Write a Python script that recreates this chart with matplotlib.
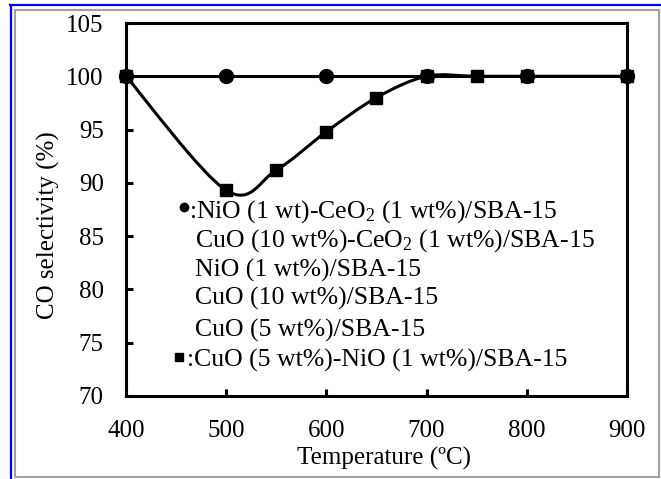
import matplotlib
matplotlib.use("Agg")
import matplotlib.pyplot as plt
from matplotlib.path import Path
from matplotlib.patches import PathPatch, Rectangle
from matplotlib.lines import Line2D

plt.rcParams['font.family'] = ['Liberation Serif', 'DejaVu Serif']
plt.rcParams['mathtext.fontset'] = 'custom'
plt.rcParams['mathtext.rm'] = 'Liberation Serif'
plt.rcParams['mathtext.it'] = 'Liberation Serif:italic'

# ---- data ----
temp_nice = [400, 500, 600, 700, 800, 900]
sel_nice = [100, 100, 100, 100, 100, 100]

temp_cuni = [400, 500, 550, 600, 650, 700, 750, 800, 900]
sel_cuni = [100, 89.3, 91.2, 94.8, 98.0, 100, 100, 100, 100]

legend_labels = [
    ":NiO (1 wt)-CeO$_\\mathrm{2}$ (1 wt%)/SBA-15",
    "CuO (10 wt%)-CeO$_\\mathrm{2}$ (1 wt%)/SBA-15",
    "NiO (1 wt%)/SBA-15",
    "CuO (10 wt%)/SBA-15",
    "CuO (5 wt%)/SBA-15",
    ":CuO (5 wt%)-NiO (1 wt%)/SBA-15",
]

x_ticks = [400, 500, 600, 700, 800, 900]
y_ticks = [70, 75, 80, 85, 90, 95, 100, 105]

W, H = 661, 479
fig = plt.figure(figsize=(W / 100, H / 100), dpi=100)
fig.patch.set_facecolor('white')

L, R, T, B = 126, 627, 23, 396
ax = fig.add_axes([L / W, (H - B) / H, (R - L) / W, (B - T) / H])


def smooth_path(xs, ys):
    # Catmull-Rom style cubic Bezier smoothing (like spreadsheet "smoothed line")
    n = len(xs)
    verts = [(xs[0], ys[0])]
    codes = [Path.MOVETO]
    for i in range(n - 1):
        x0, y0 = (xs[i - 1], ys[i - 1]) if i > 0 else (xs[i], ys[i])
        x1, y1 = xs[i], ys[i]
        x2, y2 = xs[i + 1], ys[i + 1]
        x3, y3 = (xs[i + 2], ys[i + 2]) if i + 2 < n else (xs[i + 1], ys[i + 1])
        c1 = (x1 + (x2 - x0) / 6.0, y1 + (y2 - y0) / 6.0)
        c2 = (x2 - (x3 - x1) / 6.0, y2 - (y3 - y1) / 6.0)
        verts += [c1, c2, (x2, y2)]
        codes += [Path.CURVE4] * 3
    return Path(verts, codes)


ax.add_patch(PathPatch(smooth_path(temp_cuni, sel_cuni), facecolor='none',
                       edgecolor='black', lw=2.2, zorder=2))
ax.plot(temp_cuni, sel_cuni, linestyle='none', marker='s', markersize=8,
        color='black', zorder=3, clip_on=False)
ax.plot(temp_nice, sel_nice, color='black', lw=2.2, marker='o', markersize=10,
        zorder=4, clip_on=False)

ax.set_xlim(400, 900)
ax.set_ylim(70, 105)
ax.set_xticks(x_ticks)
ax.set_yticks(y_ticks)
ax.tick_params(direction='in', length=5, width=2.2, labelsize=18, colors='black')
ax.tick_params(axis='x', pad=17)
ax.tick_params(axis='y', pad=16)
for s in ax.spines.values():
    s.set_linewidth(2.2)

ax.set_xlabel("Temperature (ºC)", fontsize=18)
ax.set_ylabel("CO selectivity (%)", fontsize=18)
ax.xaxis.set_label_coords((384 - L) / (R - L), (B - 458) / (B - T))
ax.xaxis.label.set_va('center')
ax.yaxis.set_label_coords((48 - L) / (R - L), (B - 225) / (B - T))
ax.yaxis.label.set_va('center')

# ---- legend (text inside the plot) ----
ys_px = [208, 237, 268, 296, 328, 358]
xs_px = [189, 195, 195, 195, 195, 187]
for lab, yp, xp in zip(legend_labels, ys_px, xs_px):
    ax.text((xp - L) / (R - L), (B - yp) / (B - T), lab, transform=ax.transAxes,
            fontsize=18.5, va='center_baseline', ha='left')
ax.plot([(183.5 - L) / (R - L)], [(B - 207) / (B - T)], marker='o', markersize=6,
        color='black', transform=ax.transAxes, clip_on=False)
ax.plot([(178.5 - L) / (R - L)], [(B - 357) / (B - T)], marker='s', markersize=5.5,
        color='black', transform=ax.transAxes, clip_on=False)

# ---- outer frames ----
fig.add_artist(Line2D([10 / W, 1.0], [(H - 5) / H, (H - 5) / H], color='#0000ff',
                      lw=1.6, transform=fig.transFigure))
fig.add_artist(Line2D([11 / W, 11 / W], [(H - 5) / H, 0.0], color='#0000ff',
                      lw=1.6, transform=fig.transFigure))
fig.add_artist(Rectangle((14.5 / W, (H - 477) / H), (659 - 14.5) / W, (477 - 9.5) / H,
                         fill=False, edgecolor='#a0a0a0', lw=1.5,
                         transform=fig.transFigure))

fig.savefig("out.png", dpi=100)
